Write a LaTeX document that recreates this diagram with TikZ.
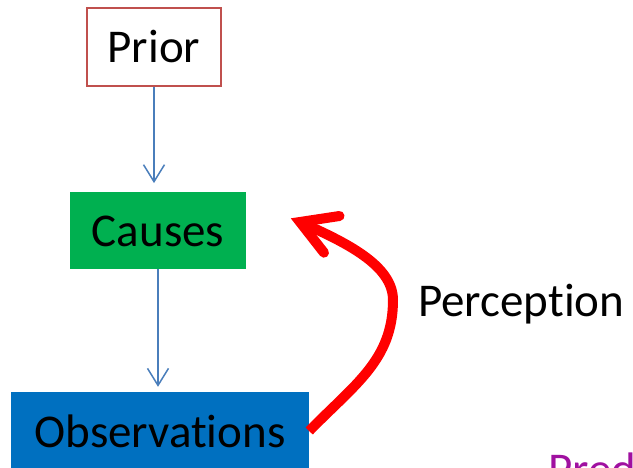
\documentclass[tikz,border=0pt]{standalone}
\usepackage{fontspec}
\setmainfont[Ligatures=NoCommon]{Carlito}
\usetikzlibrary{arrows.meta}
\definecolor{priorred}{RGB}{192,80,77}
\definecolor{causegreen}{RGB}{0,176,80}
\definecolor{obsblue}{RGB}{0,112,192}
\definecolor{linkblue}{RGB}{74,126,187}
\definecolor{percred}{RGB}{255,0,0}
\definecolor{predpurple}{RGB}{160,16,160}
\tikzset{
  bigtext/.style={font=\fontsize{47}{50}\selectfont, text=black},
  stagebox/.style={bigtext, inner sep=0pt, text height=32pt, text depth=0pt},
  link/.style={draw=linkblue, line width=1.5pt,
    -{Straight Barb[length=17pt,width=21pt,line width=1.5pt]}},
  perc/.style={draw=percred, line width=10pt},
}
\begin{document}
\begin{tikzpicture}[x=1pt,y=-1pt]
  \path[use as bounding box, clip] (0,0) rectangle (633,468);

  % the three stages
  \node[stagebox, draw=priorred, line width=1.5pt, fill=white,
        minimum width=134pt, minimum height=78pt] (prior) at (154,47) {Prior};
  \node[stagebox, fill=causegreen,
        minimum width=176pt, minimum height=77pt] (causes) at (158,230.8) {Causes};
  \node[stagebox, fill=obsblue,
        minimum width=298pt, minimum height=78pt] (obs) at (160,431) {Observations};

  % generative links
  \draw[link, shorten >=9pt] (prior.south) -- (prior.south |- causes.north);
  \draw[link, shorten >=5pt] (causes.south) -- (causes.south |- obs.north);

  % perception arrow back up to the causes
  \coordinate (bend) at (393,300);
  \coordinate (tip) at (300,222);
  \coordinate (armA) at (339.5,216);
  \coordinate (armB) at (324,252.7);
  \draw[perc] (obs.east) .. controls (355,384) and (393,360) .. (bend)
                         .. controls (393,265) and (345,242) .. (tip);
  \draw[perc, line cap=round, line join=miter] (armA) -- (tip) -- (armB);

  % labels
  \node[bigtext, anchor=base west, inner sep=0pt] (perception) at (418,316.7) {Perception};
  \node[bigtext, text=predpurple, anchor=base west, inner sep=0pt] (prediction) at (548,485) {Pred};
\end{tikzpicture}
\end{document}
